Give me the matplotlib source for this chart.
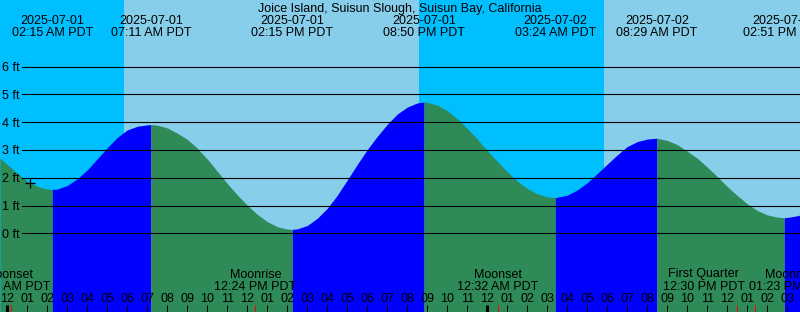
import matplotlib
matplotlib.use('Agg')
import matplotlib.pyplot as plt

####################################################################
# Data (hours after 2025-07-01 00:00 PDT, water level in feet)
####################################################################
title = "Joice Island, Suisun Slough, Suisun Bay, California"

tide_hours = [-0.37, 0, 0.5, 1, 1.5, 2, 2.25, 2.5, 3, 3.5, 4, 4.5, 5, 5.5, 6, 6.5,
              7, 7.18, 7.5, 8, 8.5, 9, 9.5, 10, 10.5, 11, 11.5, 12, 12.5, 13,
              13.5, 14, 14.25, 14.5, 15, 15.5, 16, 16.5, 17, 17.5, 18, 18.5, 19,
              19.5, 20, 20.5, 20.83, 21, 21.5, 22, 22.5, 23, 23.5, 24, 24.5, 25,
              25.5, 26, 26.5, 27, 27.4, 28, 28.5, 29, 29.5, 30, 30.5, 31, 31.5,
              32, 32.48, 33, 33.5, 34, 34.5, 35, 35.5, 36, 36.5, 37, 37.5, 38,
              38.5, 38.85, 39, 39.5, 39.64]
tide_levels = [2.70, 2.48, 2.15, 1.88, 1.69, 1.59, 1.58, 1.59, 1.72, 1.96, 2.28,
               2.68, 3.08, 3.45, 3.72, 3.85, 3.90, 3.91, 3.89, 3.79, 3.60, 3.38,
               3.06, 2.67, 2.23, 1.79, 1.38, 1.01, 0.68, 0.42, 0.24, 0.15, 0.14,
               0.16, 0.28, 0.54, 0.90, 1.37, 1.92, 2.48, 3.01, 3.49, 3.92, 4.29,
               4.54, 4.69, 4.72, 4.71, 4.61, 4.41, 4.12, 3.77, 3.39, 2.97, 2.59,
               2.21, 1.88, 1.61, 1.42, 1.31, 1.28, 1.37, 1.56, 1.82, 2.15, 2.49,
               2.82, 3.12, 3.30, 3.39, 3.42, 3.34, 3.19, 2.95, 2.70, 2.38, 2.04,
               1.68, 1.36, 1.06, 0.82, 0.66, 0.58, 0.56, 0.57, 0.63, 0.66]

# highs and lows
event_hours = [2.25, 7.18, 14.25, 20.83, 27.4, 32.48, 38.85]
event_dates = ['2025-07-01', '2025-07-01', '2025-07-01', '2025-07-01',
               '2025-07-02', '2025-07-02', '2025-07-02']
event_times = ['02:15 AM PDT', '07:11 AM PDT', '02:15 PM PDT', '08:50 PM PDT',
               '03:24 AM PDT', '08:29 AM PDT', '02:51 PM PDT']

# sunrise / sunset / sunrise
sun_hours = [5.83, 20.58, 29.83]

# moon events
moon_hours = [0.2, 12.4, 24.53, 36.5, 37.38]
moon_names = ['Moonset', 'Moonrise', 'Moonset', 'First Quarter', 'Moonrise']
moon_times = ['12:12 AM PDT', '12:24 PM PDT', '12:32 AM PDT',
              '12:30 PM PDT', '01:23 PM PDT']

grid_levels = [0, 1, 2, 3, 4, 5, 6]

####################################################################
# Layout
####################################################################
W, H = 800, 312
x0_px, px_hour = 7.3, 20.0      # x pixel of midnight, pixels per hour
y0_px, px_foot = 233.3, 27.8    # y pixel of 0 ft, pixels per foot

night_col = '#00bfff'
day_col = '#87ceeb'
flood_col = '#0000ff'
ebb_col = '#2e8b57'

plt.rcParams['font.family'] = ['Liberation Sans', 'DejaVu Sans']
fs = 9

fig = plt.figure(figsize=(W / 100, H / 100), dpi=100)
ax = fig.add_axes([0, 0, 1, 1])
ax.set_xlim(-x0_px / px_hour, (W - x0_px) / px_hour)
ax.set_ylim((y0_px - H) / px_foot, y0_px / px_foot)
ax.axis('off')

xt = ax.get_xaxis_transform()   # x data, y axes fraction
yt = ax.get_yaxis_transform()   # x axes fraction, y data
ybot = (y0_px - H) / px_foot - 1


def fy(px):
    return 1 - px / H


# day / night background
x_lo, x_hi = ax.get_xlim()
edges = [x_lo] + sun_hours + [x_hi]
for i in range(len(edges) - 1):
    ax.axvspan(edges[i], edges[i + 1], color=night_col if i % 2 == 0 else day_col,
               lw=0, zorder=0)

# water, split at highs and lows: rising blue, falling green
cuts = [tide_hours[0]] + event_hours + [tide_hours[-1]]
for i in range(len(cuts) - 1):
    seg = [(h, v) for h, v in zip(tide_hours, tide_levels) if cuts[i] <= h <= cuts[i + 1]]
    hs = [s[0] for s in seg]
    vs = [s[1] for s in seg]
    rising = vs[-1] > vs[0]
    ax.fill_between(hs, ybot, vs, color=flood_col if rising else ebb_col,
                    lw=0, zorder=1)

# grid lines and labels
for lv in grid_levels:
    ax.axhline(lv, xmin=22 / W, xmax=1, color='black', lw=0.8, zorder=2)
    ax.text(20 / W, lv - 4.6 / px_foot, "%d ft" % lv, transform=yt, ha='right',
            va='baseline', fontsize=fs, zorder=3)

# current point marker
ax.plot([1.135], [1.81], marker='+', ms=6.5, mew=0.9, color='black', zorder=3)

# title and tide events
fig.text(0.5, fy(12), title, ha='center', va='baseline', fontsize=fs)
for h, d, t in zip(event_hours, event_dates, event_times):
    ax.text(h, fy(24), d, transform=xt, ha='center', va='baseline', fontsize=fs)
    ax.text(h, fy(36.5), t, transform=xt, ha='center', va='baseline', fontsize=fs)

# moon events (last two nudged apart as in the original)
nudge = [-2, 0, 0, -33.6, 35.5]
for h, n, t, dx in zip(moon_hours, moon_names, moon_times, nudge):
    hx = h + dx / px_hour
    ax.text(hx, fy(277.5), n, transform=xt, ha='center', va='baseline', fontsize=fs)
    ax.text(hx, fy(289.5), t, transform=xt, ha='center', va='baseline', fontsize=fs)

# hour ticks
tick_hours = list(range(0, 40))
for h in tick_hours:
    lab = "%02d" % (h % 12 if h % 12 else 12)
    ax.text(h, fy(301.5), lab, transform=xt, ha='center', va='baseline', fontsize=fs)
    ax.vlines(h, 0, fy(305), transform=xt, color='black',
              lw=2.2 if h % 24 == 0 else 0.75, zorder=3)
ax.vlines(moon_hours, 0, fy(305), transform=xt, color='red', lw=0.75, zorder=4)

plt.savefig('out.png', dpi=100)
plt.close('all')
